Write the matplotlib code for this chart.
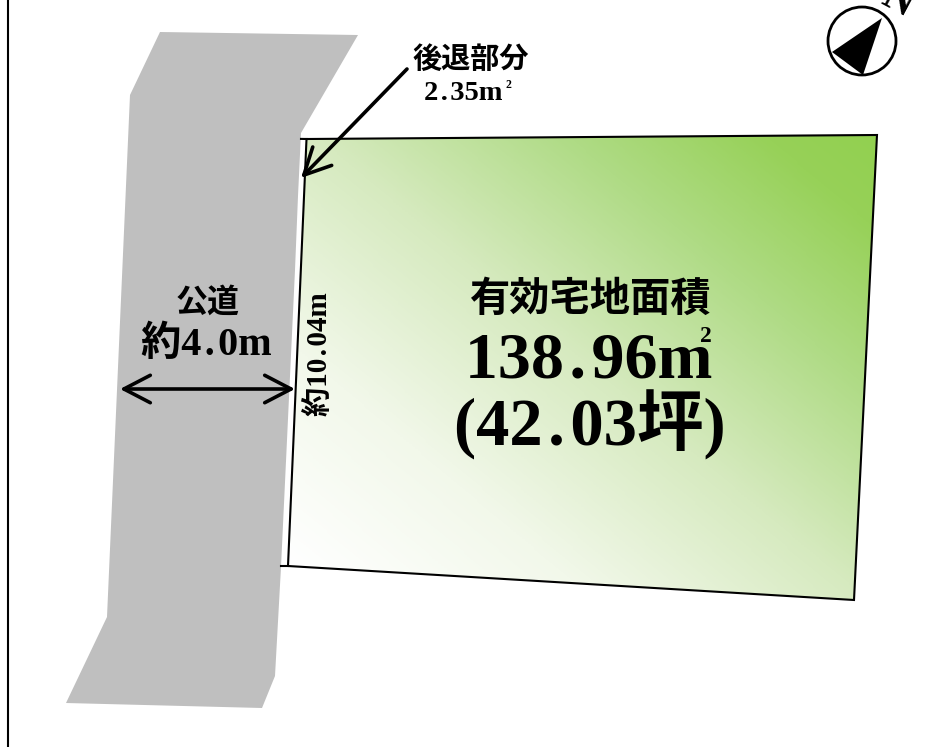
import numpy as np
import matplotlib
matplotlib.use("Agg")
import matplotlib.pyplot as plt
from matplotlib.colors import LinearSegmentedColormap
from matplotlib.patches import Polygon, Circle

W, H = 945, 747
road_outline = [(160, 32), (358, 35), (301, 133), (298, 196), (295, 270), (287, 440),
                (281, 567), (275, 676), (262, 708), (66, 703), (107, 617), (130, 95)]
lot_outline = [(306.5, 139), (877, 135), (854, 600), (288, 566)]
north_triangle = [(882, 18), (832, 52), (863, 75)]
gradient_colors = [(0.0, "#ffffff"), (0.24, "#f2f8ea"), (0.49, "#d6eabf"),
                   (0.72, "#afdb85"), (0.9, "#97d158"), (1.0, "#92d050")]

FONT = ["Liberation Serif", "Noto Sans CJK JP", "DejaVu Sans"]
HS = "\u200a"

fig = plt.figure(figsize=(W / 100, H / 100), dpi=100, facecolor="white")
ax = fig.add_axes([0, 0, 1, 1])
ax.set_axis_off()

ax.add_patch(Polygon(road_outline, closed=True, fc="#bfbfbf", ec="none", zorder=1))

yy, xx = np.mgrid[130:605:200j, 285:880:200j]
s = (0.84 * xx - yy + 324) / 926
cmap = LinearSegmentedColormap.from_list("lot", gradient_colors)
im = ax.imshow(s, extent=(285, 880, 605, 130), origin="upper", cmap=cmap, vmin=0, vmax=1,
               aspect="auto", interpolation="bilinear", zorder=2)
lot = Polygon(lot_outline, closed=True, fc="none", ec="black", lw=1.5, zorder=3, joinstyle="miter")
ax.add_patch(lot)
im.set_clip_path(lot)
ax.plot([301, 307], [138.9, 139], color="black", lw=1.5, zorder=3)
ax.plot([281, 288], [566, 566], color="black", lw=1.5, zorder=3)

ax.plot([7.5, 7.5], [0, H], color="black", lw=1.5, zorder=3)

ax.annotate("", xy=(301, 178), xytext=(407, 69), zorder=5,
            arrowprops=dict(arrowstyle="->,head_length=1.0,head_width=0.5", mutation_scale=19,
                            lw=2.6, color="black", shrinkA=0, shrinkB=0))
ax.annotate("", xy=(295, 389), xytext=(120, 389), zorder=5,
            arrowprops=dict(arrowstyle="<->,head_length=1.0,head_width=0.52", mutation_scale=19,
                            lw=2.6, color="black", shrinkA=0, shrinkB=0))

ax.add_patch(Circle((862, 41), 34, fc="white", ec="black", lw=2, zorder=3))
ax.add_patch(Polygon(north_triangle, closed=True, fc="black", ec="none", zorder=4))
ax.text(897, 1, "N", family=FONT, weight="bold", fontsize=30, rotation=-28,
        ha="center", va="center", zorder=4)

def label(x, y, s, size, rot=0, ha="center"):
    ax.text(x, y, s, family=FONT, weight="bold", fontsize=size, rotation=rot,
            ha=ha, va="center", color="black", zorder=6)

label(471, 60, "後退部分", 21)
label(424, 93, f"2{HS}.{HS}35m", 20.5, ha="left")
label(508, 85, "2", 8.5)
label(208, 303, "公道", 23)
label(206, 345, f"約4{HS}.{HS}0m", 29)
label(319, 354, f"約10{HS}.{HS}04m", 21, rot=90)
label(591, 300, "有効宅地面積", 29)
label(465, 361, f"138{HS}.{HS}96m", 47.5, ha="left")
label(706, 337, "2", 17)
label(590, 425, f"(42{HS}.{HS}03坪)", 48)

ax.set_xlim(0, W)
ax.set_ylim(H, 0)
fig.savefig("out.png", dpi=100)
